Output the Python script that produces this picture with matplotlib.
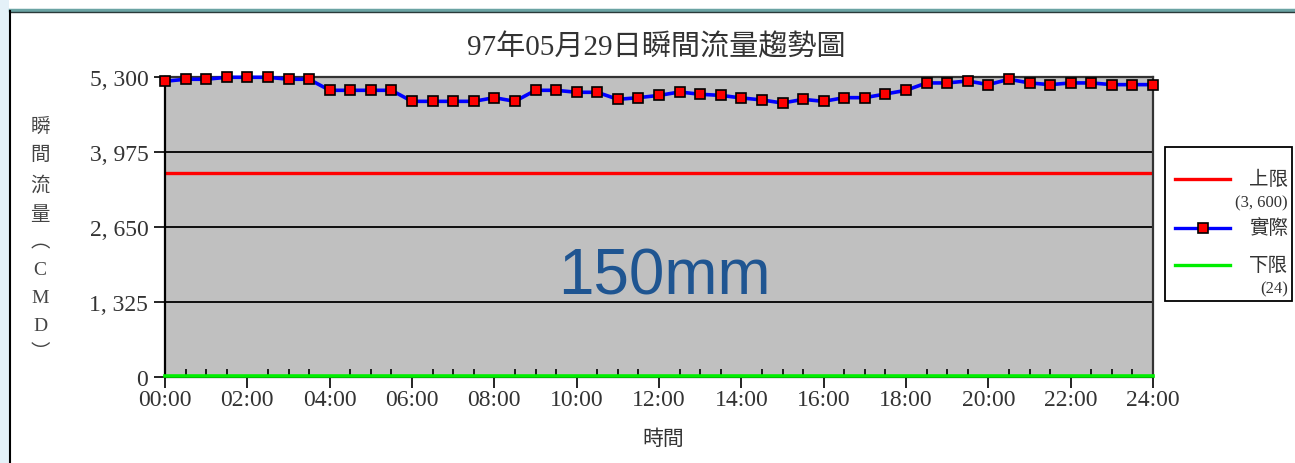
import matplotlib
matplotlib.use("Agg")
import matplotlib.pyplot as plt
from matplotlib.ticker import FuncFormatter, MultipleLocator
from matplotlib.lines import Line2D
from matplotlib.patches import Rectangle

serif = ["Liberation Serif", "Noto Sans CJK TC"]
plt.rcParams["font.family"] = serif

# half-hour samples of the instantaneous flow (CMD)
hours = [0, 0.5, 1, 1.5, 2, 2.5, 3, 3.5, 4, 4.5, 5, 5.5, 6, 6.5, 7, 7.5,
         8, 8.5, 9, 9.5, 10, 10.5, 11, 11.5, 12, 12.5, 13, 13.5, 14, 14.5,
         15, 15.5, 16, 16.5, 17, 17.5, 18, 18.5, 19, 19.5, 20, 20.5, 21,
         21.5, 22, 22.5, 23, 23.5, 24]
flow = [5225, 5260, 5260, 5295, 5295, 5295, 5260, 5260, 5065, 5065, 5065,
        5065, 4870, 4870, 4870, 4870, 4935, 4870, 5065, 5065, 5030, 5030,
        4905, 4935, 4975, 5035, 4995, 4975, 4930, 4895, 4840, 4905, 4870,
        4935, 4935, 5000, 5065, 5195, 5195, 5230, 5165, 5260, 5195, 5165,
        5195, 5195, 5165, 5165, 5165]
upper_limit = 3600
lower_limit = 24
y_ticks = [0, 1325, 2650, 3975, 5300]
x_ticks = [0, 2, 4, 6, 8, 10, 12, 14, 16, 18, 20, 22, 24]

W, H = 1295, 464
fig = plt.figure(figsize=(W / 100, H / 100), dpi=100)
fig.patch.set_facecolor("white")


def fx(px):
    return px / W


def fy(py):
    return 1 - py / H


# page frame: pale strip on the left, teal rule on top, black rule at left
fig.add_artist(Rectangle((0, 0), fx(9), 1, transform=fig.transFigure,
                         facecolor="#e4f1f8", edgecolor="none"))
fig.add_artist(Line2D([fx(10), 1], [fy(11), fy(11)],
                      transform=fig.transFigure, color="#6aa3a3", lw=2.5))
fig.add_artist(Line2D([fx(10), 1], [fy(13), fy(13)],
                      transform=fig.transFigure, color="#2a3a3a", lw=1))
fig.add_artist(Line2D([fx(10), fx(10)], [0, fy(12)],
                      transform=fig.transFigure, color="black", lw=1.5))

ax = fig.add_axes([fx(165), fy(378), fx(988), 300 / H])
ax.set_facecolor("#c0c0c0")

for v in y_ticks[1:-1]:
    ax.axhline(v, color="black", lw=1.3, zorder=1)

ax.axhline(upper_limit, color="#ff0000", lw=2.4, zorder=2)
ax.axhline(lower_limit, color="#00ee00", lw=2.6, zorder=3, clip_on=False)
ax.plot(hours, flow, color="#0000ff", lw=2.6, zorder=3, clip_on=False)
ax.plot(hours, flow, ls="none", marker="s", ms=7, mfc="#ff0000",
        mec="black", mew=1.2, zorder=4, clip_on=False)

ax.set_xlim(0, 24)
ax.set_ylim(0, 5300)
ax.set_yticks(y_ticks)
ax.yaxis.set_major_formatter(FuncFormatter(lambda v, p: f"{int(v):,}".replace(",", ", ")))
ax.set_xticks(x_ticks)
ax.set_xticklabels([f"{h:02d}:00" for h in x_ticks])
ax.xaxis.set_minor_locator(MultipleLocator(0.5))
ax.tick_params(axis="both", which="major", direction="out", length=8,
               width=1.2, labelsize=17, colors="black", labelcolor="#333333")
ax.tick_params(axis="x", which="minor", direction="in", length=6, width=1.2)
ax.tick_params(axis="y", pad=4)
ax.tick_params(axis="x", pad=1)
for side in ["left", "bottom"]:
    ax.spines[side].set_linewidth(1.6)
    ax.spines[side].set_color("black")
for side in ["top", "right"]:
    ax.spines[side].set_linewidth(1.6)
    ax.spines[side].set_color("#333333")

fig.text(fx(656), fy(48), "97年05月29日瞬間流量趨勢圖", ha="center",
         va="center", fontsize=21, color="#333333")
fig.text(fx(663), fy(440), "時間", ha="center", va="center",
         fontsize=15, color="#333333")
ylabel = ["瞬", "間", "流", "量", "︵", "C", "M", "D", "︶"]
fig.text(fx(40), fy(240), "\n".join(ylabel), ha="center",
         va="center", fontsize=14, color="#444444", linespacing=1.82)

ax.text(0.505, 0.335, "150mm", transform=ax.transAxes, ha="center",
        va="center", fontsize=46, color="#1f5591",
        family=["Liberation Sans", "DejaVu Sans"], zorder=5)

# legend box drawn by hand so the two-line labels sit like the original
fig.add_artist(Rectangle((fx(1165), fy(302)), fx(127), 154 / H,
                         transform=fig.transFigure, facecolor="white",
                         edgecolor="black", lw=1.3))
legend_rows = [
    (fy(180), "#ff0000", None, "上限", f"({upper_limit:,})".replace(",", ", ")),
    (fy(229), "#0000ff", "s", "實際", None),
    (fy(266), "#00ee00", None, "下限", f"({lower_limit})"),
]
for ry, color, mk, name, sub in legend_rows:
    fig.add_artist(Line2D([fx(1175), fx(1230)], [ry, ry],
                          transform=fig.transFigure, color=color, lw=2.4))
    if mk:
        fig.add_artist(Line2D([fx(1203)], [ry], transform=fig.transFigure,
                              ls="none", marker=mk, ms=7, mfc="#ff0000",
                              mec="black", mew=1.2))
    fig.text(fx(1288), ry, name, ha="right", va="center", fontsize=14,
             color="#333333")
    if sub:
        fig.text(fx(1288), ry - 23 / H, sub, ha="right", va="center",
                 fontsize=12, color="#333333")

fig.savefig("out.png", dpi=100)
